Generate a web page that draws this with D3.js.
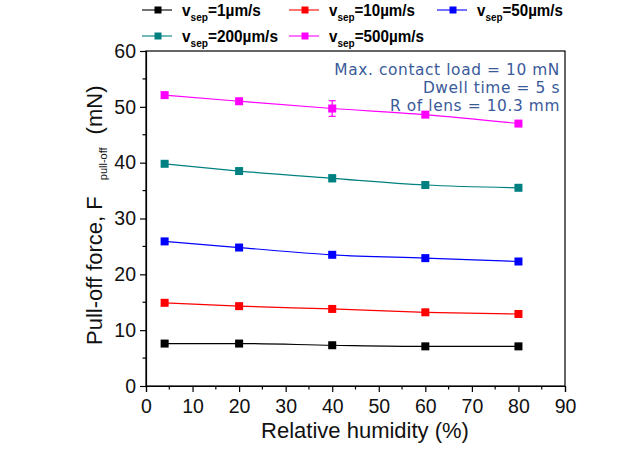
<!DOCTYPE html>
<html><head><meta charset="utf-8">
<script src="https://cdn.jsdelivr.net/npm/d3@7"></script>
<style>body{margin:0;background:#fff}svg{display:block}</style>
</head><body><svg id="c" width="636" height="453" font-family="Liberation Sans, Arial, sans-serif"></svg>
<script>
const humidity = [4, 20, 40, 60, 80];
const seriesNames = ["1µm/s", "10µm/s", "50µm/s", "200µm/s", "500µm/s"];
const seriesColors = ["#000000", "#ff0000", "#0000ff", "#008080", "#ff00ff"];
const v1 = [7.6, 7.6, 7.3, 7.1, 7.1];
const v10 = [14.9, 14.3, 13.8, 13.2, 12.9];
const v50 = [25.9, 24.8, 23.5, 22.9, 22.3];
const v200 = [39.8, 38.5, 37.2, 36.0, 35.5];
const v500 = [52.1, 51.0, 49.7, 48.6, 47.0];
const e1 = [0.3, 0.3, 0.3, 0.3, 0.4];
const e10 = [0.3, 0.3, 0.3, 0.3, 0.3];
const e50 = [0.3, 0.3, 0.3, 0.3, 0.3];
const e200 = [0.3, 0.3, 0.6, 0.4, 0.3];
const e500 = [0.3, 0.3, 1.4, 0.3, 0.3];
const xTicks = [0, 10, 20, 30, 40, 50, 60, 70, 80, 90];
const yTicks = [0, 10, 20, 30, 40, 50, 60];
const notes = ["Max. contact load = 10 mN", "Dwell time = 5 s", "R of lens = 10.3 mm"];

const values = [v1, v10, v50, v200, v500];
const errs = [e1, e10, e50, e200, e500];

const svg = d3.select("#c");
const L = 146, R = 565, T = 51, B = 386;
const x = d3.scaleLinear().domain([0, 90]).range([L, R]);
const y = d3.scaleLinear().domain([0, 60]).range([B, T]);

svg.append("rect").attr("x", L).attr("y", T).attr("width", R - L).attr("height", B - T)
  .attr("fill", "none").attr("stroke", "#000").attr("stroke-width", 1.2);

const xAxis = svg.append("g").attr("transform", `translate(0,${B})`)
  .call(d3.axisBottom(x).tickValues(xTicks).tickSize(6).tickPadding(7).tickFormat(d3.format("d")));
const yAxis = svg.append("g").attr("transform", `translate(${L},0)`)
  .call(d3.axisLeft(y).tickValues(yTicks).tickSize(6).tickPadding(4).tickFormat(d3.format("d")));
[xAxis, yAxis].forEach(g => {
  g.attr("font-family", null).attr("font-size", null);
  g.select(".domain").attr("stroke-width", 1.2);
  g.selectAll(".tick line").attr("stroke-width", 1.2);
  g.selectAll("text").attr("font-size", 19.5).attr("fill", "#111");
});
const xMinor = d3.range(5, 90, 10);
const yMinor = d3.range(5, 60, 10);
svg.append("g").selectAll("line").data(xMinor).join("line")
  .attr("x1", d => x(d)).attr("x2", d => x(d)).attr("y1", B).attr("y2", B + 3.5)
  .attr("stroke", "#000").attr("stroke-width", 1.2);
svg.append("g").selectAll("line").data(yMinor).join("line")
  .attr("y1", d => y(d)).attr("y2", d => y(d)).attr("x1", L).attr("x2", L - 3.5)
  .attr("stroke", "#000").attr("stroke-width", 1.2);

const line = d3.line().x(d => x(d[0])).y(d => y(d[1])).curve(d3.curveMonotoneX);
values.forEach((vals, i) => {
  const pts = humidity.map((h, j) => [h, vals[j], errs[i][j]]);
  const g = svg.append("g");
  g.append("path").attr("d", line(pts)).attr("fill", "none")
    .attr("stroke", seriesColors[i]).attr("stroke-width", 1.2);
  pts.forEach(p => {
    const cx = x(p[0]);
    g.append("line").attr("x1", cx).attr("x2", cx).attr("y1", y(p[1] - p[2])).attr("y2", y(p[1] + p[2]))
      .attr("stroke", seriesColors[i]).attr("stroke-width", 1.2);
    [p[1] - p[2], p[1] + p[2]].forEach(v => g.append("line")
      .attr("x1", cx - 3.5).attr("x2", cx + 3.5).attr("y1", y(v)).attr("y2", y(v))
      .attr("stroke", seriesColors[i]).attr("stroke-width", 1.2));
    const s = 8;
    g.append("rect").attr("x", cx - s / 2).attr("y", y(p[1]) - s / 2).attr("width", s).attr("height", s)
      .attr("fill", seriesColors[i]);
  });
});

notes.forEach((t, i) => {
  svg.append("text").attr("x", 560).attr("y", [75, 93, 111][i]).attr("text-anchor", "end")
    .attr("font-family", "DejaVu Sans").attr("font-size", 15.4).attr("letter-spacing", 0.6)
    .attr("fill", "#3a5a9a").text(t);
});

const legPos = [[142, 10], [289, 10], [437, 10], [142, 36], [289, 36]];
const legW = [79, 86, 86, 96, 95];
seriesNames.forEach((n, i) => {
  const [lx, ly] = legPos[i];
  const g = svg.append("g");
  g.append("line").attr("x1", lx).attr("x2", lx + 30).attr("y1", ly).attr("y2", ly)
    .attr("stroke", seriesColors[i]).attr("stroke-width", 1.1);
  g.append("rect").attr("x", lx + 12.5).attr("y", ly - 3.5).attr("width", 7).attr("height", 7).attr("fill", seriesColors[i]);
  const t = g.append("text").attr("x", lx + 40).attr("y", ly + 6.5).attr("font-size", 16).attr("font-weight", "bold").attr("fill", "#000");
  t.append("tspan").text("v");
  t.append("tspan").attr("font-size", 10.5).attr("dy", 5).text("sep");
  t.append("tspan").attr("dy", -5).text("=" + n);
  const w = t.node().getComputedTextLength();
  const k = legW[i] / w;
  t.attr("transform", `translate(${lx + 40},0) scale(${k},1) translate(${-(lx + 40)},0)`);
});

svg.append("text").attr("x", 365).attr("y", 438).attr("text-anchor", "middle").attr("font-size", 22).attr("fill", "#111")
  .text("Relative humidity (%)");
const yt = svg.append("text").attr("transform", "translate(102,345) rotate(-90)").attr("text-anchor", "start")
  .attr("font-size", 22).attr("fill", "#111");
yt.append("tspan").text("Pull-off force, F");
yt.append("tspan").attr("font-size", 11).attr("dx", 16).attr("dy", 5).text("pull-off");
yt.append("tspan").attr("dx", 13).attr("dy", -5).text("(mN)");
</script></body></html>
